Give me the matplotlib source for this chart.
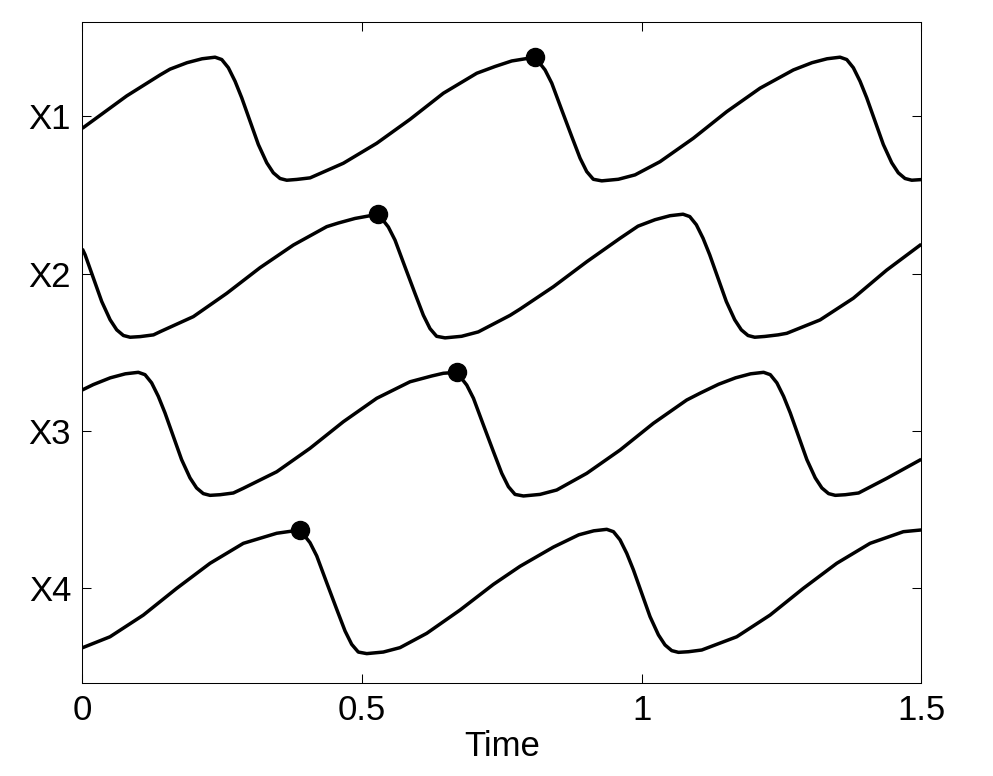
import matplotlib
matplotlib.use("Agg")
import matplotlib.pyplot as plt

# ---- data ----
t1 = [0.0, 0.0794, 0.139, 0.1568, 0.1872, 0.2141, 0.2373,
      0.2493, 0.2611, 0.2731, 0.2850, 0.2999, 0.3147, 0.3297, 0.3415, 0.3535, 0.3655, 0.3834, 0.4072,
      0.4667, 0.5264, 0.5859, 0.6455, 0.7052, 0.7379, 0.7677, 0.8094,
      0.8273, 0.8393, 0.8571, 0.8750, 0.8899, 0.9018, 0.9136, 0.9287, 0.9583, 0.9882,
      1.0329, 1.0925, 1.1522, 1.2117, 1.2713, 1.3046, 1.3315, 1.3547,
      1.3667, 1.3785, 1.3905, 1.4024, 1.4173, 1.4321, 1.4471, 1.4589, 1.4709, 1.4829, 1.5]
x1 = [3.924, 4.130, 4.263, 4.300, 4.341, 4.366, 4.376,
      4.361, 4.309, 4.223, 4.118, 3.969, 3.821, 3.705, 3.641, 3.605, 3.594, 3.599, 3.609,
      3.702, 3.829, 3.981, 4.147, 4.274, 4.317, 4.352, 4.376,
      4.295, 4.211, 4.041, 3.872, 3.734, 3.649, 3.600, 3.590, 3.600, 3.628,
      3.712, 3.861, 4.030, 4.179, 4.295, 4.341, 4.366, 4.376,
      4.361, 4.309, 4.223, 4.118, 3.969, 3.821, 3.705, 3.641, 3.605, 3.594, 3.598]

t2 = [0.0, 0.0050, 0.0199, 0.0347, 0.0497, 0.0615, 0.0735, 0.0855, 0.1034, 0.1272,
      0.139, 0.1985, 0.2582, 0.3177, 0.3773, 0.437, 0.4577, 0.4875, 0.5292,
      0.5471, 0.5591, 0.5769, 0.5948, 0.6097, 0.6216, 0.6334, 0.6485, 0.6781, 0.7080,
      0.7647, 0.7826, 0.8422, 0.9019, 0.9614, 0.9935, 1.0239, 1.0508, 1.0740,
      1.0860, 1.0978, 1.1098, 1.1217, 1.1366, 1.1514, 1.1664, 1.1782, 1.1902, 1.2022, 1.2201, 1.2439,
      1.2595, 1.319, 1.3785, 1.4382, 1.5]
x2 = [3.158, 3.120, 2.971, 2.823, 2.707, 2.643, 2.607, 2.596, 2.600, 2.611,
      2.631, 2.727, 2.875, 3.038, 3.182, 3.299, 3.322, 3.351, 3.378,
      3.297, 3.213, 3.043, 2.874, 2.736, 2.651, 2.602, 2.592, 2.602, 2.630,
      2.735, 2.775, 2.917, 3.076, 3.225, 3.302, 3.343, 3.3685, 3.378,
      3.363, 3.311, 3.225, 3.120, 2.971, 2.823, 2.707, 2.643, 2.607, 2.596, 2.601, 2.611,
      2.621, 2.706, 2.844, 3.023, 3.187]

t3 = [0.0, 0.0196, 0.05, 0.0769, 0.1001,
      0.1121, 0.1239, 0.1359, 0.1478, 0.1627, 0.1775, 0.1925, 0.2043, 0.2163, 0.2283, 0.2462, 0.2700,
      0.2879, 0.3476, 0.4071, 0.4667, 0.5264, 0.5859, 0.6250, 0.6455, 0.6694,
      0.6873, 0.6993, 0.7171, 0.7350, 0.7499, 0.7618, 0.7736, 0.7887, 0.8183, 0.8482,
      0.9019, 0.9614, 1.021, 1.0806, 1.1054, 1.1375, 1.1679, 1.1948, 1.2180,
      1.2300, 1.2418, 1.2538, 1.2657, 1.2806, 1.2954, 1.3104, 1.3222, 1.3342, 1.3462, 1.3641, 1.3879,
      1.4382, 1.5]
x3 = [2.261, 2.295, 2.338, 2.3635, 2.373,
      2.358, 2.306, 2.220, 2.115, 1.966, 1.818, 1.702, 1.638, 1.602, 1.591, 1.595, 1.606,
      1.636, 1.741, 1.890, 2.059, 2.208, 2.313, 2.350, 2.367, 2.373,
      2.292, 2.208, 2.038, 1.869, 1.731, 1.646, 1.597, 1.587, 1.597, 1.625,
      1.731, 1.879, 2.049, 2.197, 2.242, 2.297, 2.338, 2.3635, 2.373,
      2.358, 2.306, 2.220, 2.115, 1.966, 1.818, 1.702, 1.638, 1.602, 1.591, 1.595, 1.606,
      1.699, 1.820]

t4 = [0.0, 0.0495, 0.1091, 0.1688, 0.2283, 0.2879, 0.3177, 0.3476, 0.3892,
      0.4071, 0.4191, 0.4369, 0.4548, 0.4697, 0.4816, 0.4934, 0.5085, 0.5381, 0.5680,
      0.6158, 0.6753, 0.7349, 0.7826, 0.8422, 0.8875, 0.9144, 0.9376,
      0.9496, 0.9614, 0.9734, 0.9853, 1.0002, 1.0150, 1.0300, 1.0418, 1.0538, 1.0658, 1.0837, 1.1075,
      1.17, 1.2296, 1.2891, 1.3488, 1.4084, 1.4679, 1.5]
x4 = [0.622, 0.692, 0.830, 1.000, 1.159, 1.286, 1.318, 1.350, 1.371,
      1.290, 1.206, 1.036, 0.867, 0.729, 0.644, 0.595, 0.585, 0.595, 0.623,
      0.714, 0.862, 1.025, 1.140, 1.262, 1.340, 1.3655, 1.375,
      1.360, 1.308, 1.222, 1.117, 0.968, 0.820, 0.704, 0.640, 0.604, 0.593, 0.597, 0.608,
      0.692, 0.830, 1.000, 1.159, 1.286, 1.360, 1.371]

peak_t = [0.8094, 0.5292, 0.6694, 0.3892]
peak_x = [4.376, 3.378, 2.373, 1.371]

ytick_pos = [1, 2, 3, 4]
ytick_labels = ["X4", "X3", "X2", "X1"]
xtick_pos = [0, 0.5, 1, 1.5]
xtick_labels = ["0", "0.5", "1", "1.5"]

# ---- drawing ----
plt.rcParams['font.family'] = ['Liberation Sans', 'DejaVu Sans']
fig = plt.figure(figsize=(9.93, 7.76), dpi=100)
ax = fig.add_axes([0.0829, 0.1198, 0.8449, 0.8515])

for t, x in [(t1, x1), (t2, x2), (t3, x3), (t4, x4)]:
    ax.plot(t, x, color='black', lw=2.5, solid_joinstyle='round', solid_capstyle='butt')
ax.plot(peak_t, peak_x, 'o', color='black', markersize=13, zorder=5)

ax.set_xlim(0, 1.5)
ax.set_ylim(0.398, 4.598)
ax.set_xticks(xtick_pos)
ax.set_xticklabels(xtick_labels)
ax.set_yticks(ytick_pos)
ax.set_yticklabels(ytick_labels)
ax.tick_params(direction='in', length=6.5, width=0.75, labelsize=25,
               top=True, right=True, pad=8)
for s in ax.spines.values():
    s.set_linewidth(0.75)
ax.set_xlabel("Time", fontsize=25, labelpad=2)

fig.savefig("out.png", dpi=100)
